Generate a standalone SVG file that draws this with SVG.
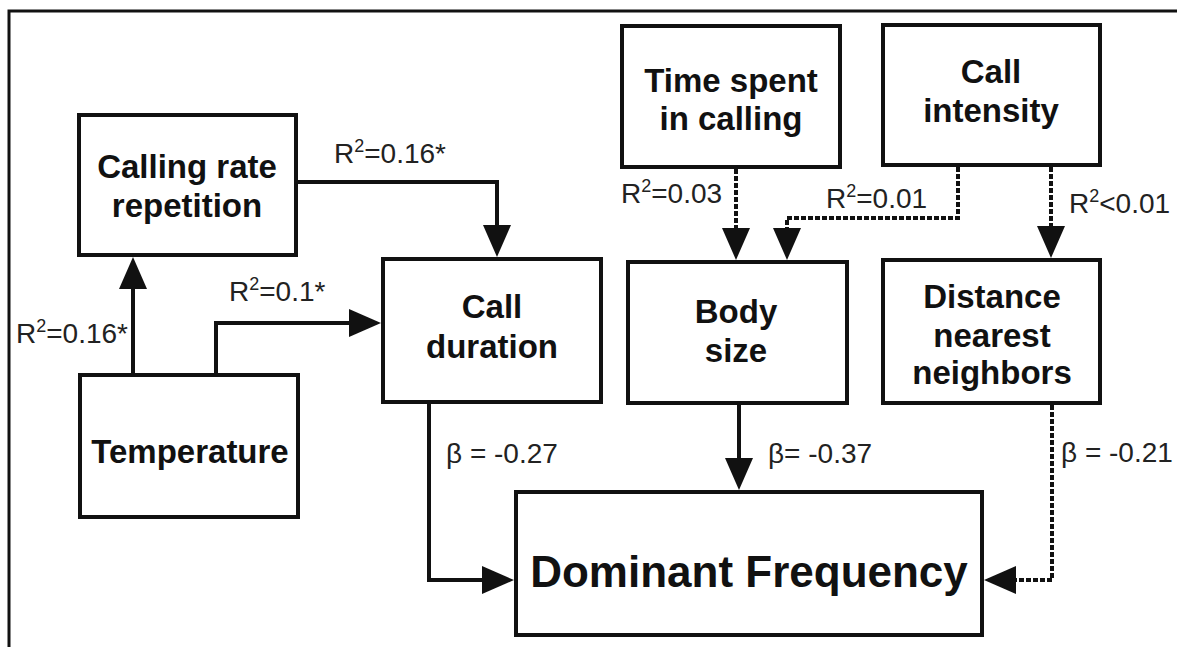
<svg xmlns="http://www.w3.org/2000/svg" width="1177" height="647" viewBox="0 0 1177 647">
  <style>
    .box { fill: #fff; stroke: #111; stroke-width: 4; }
    .nt { font-family: "Liberation Sans", Arial, sans-serif; font-weight: bold; font-size: 33px; fill: #111; text-anchor: middle; }
    .big { font-size: 44px; }
    .lb { font-family: "Liberation Sans", Arial, sans-serif; font-size: 28px; fill: #222; }
    .sup { font-size: 18px; }
    .ln { fill: none; stroke: #111; stroke-width: 4; }
    .dash { stroke-dasharray: 5 2; }
  </style>
  <defs>
    <marker id="ah" markerUnits="userSpaceOnUse" viewBox="0 0 32 28" markerWidth="32" markerHeight="28" refX="0" refY="14" orient="auto">
      <path d="M0,0 L32,14 L0,28 Z" fill="#111"/>
    </marker>
  </defs>
  <rect width="1177" height="647" fill="#fff"/>
  <g id="frame">
    <path d="M9,647 V11 H1177" fill="none" stroke="#111" stroke-width="3"/>
  </g>

  <g id="connectors">
    <path class="ln" d="M133,373 V289" marker-end="url(#ah)"/>
    <path class="ln" d="M216,373 V323 H349" marker-end="url(#ah)"/>
    <path class="ln" d="M298,182 H497 V225" marker-end="url(#ah)"/>
    <path class="ln" d="M429,404 V580 H482" marker-end="url(#ah)"/>
    <path class="ln" d="M739,405 V458" marker-end="url(#ah)"/>
    <path class="ln dash" d="M1052,405 V580 H1016" marker-end="url(#ah)"/>
    <path class="ln dash" d="M736,169 V228" marker-end="url(#ah)"/>
    <path class="ln dash" d="M958,167 V218 H787 V228" marker-end="url(#ah)"/>
    <path class="ln dash" d="M1051,167 V226" marker-end="url(#ah)"/>
  </g>

  <g id="labels">
    <text class="lb" x="334" y="163">R<tspan class="sup" dy="-11">2</tspan><tspan dy="11">=0.16*</tspan></text>
    <text class="lb" x="16" y="343">R<tspan class="sup" dy="-11">2</tspan><tspan dy="11">=0.16*</tspan></text>
    <text class="lb" x="229" y="301">R<tspan class="sup" dy="-11">2</tspan><tspan dy="11">=0.1*</tspan></text>
    <text class="lb" x="621" y="203">R<tspan class="sup" dy="-11">2</tspan><tspan dy="11">=0.03</tspan></text>
    <text class="lb" x="826" y="208">R<tspan class="sup" dy="-11">2</tspan><tspan dy="11">=0.01</tspan></text>
    <text class="lb" x="1069" y="213">R<tspan class="sup" dy="-11">2</tspan><tspan dy="11">&lt;0.01</tspan></text>
    <text class="lb" x="446" y="463">β = -0.27</text>
    <text class="lb" x="768" y="463">β= -0.37</text>
    <text class="lb" x="1061" y="462">β = -0.21</text>
  </g>

  <g id="node-calling-rate">
    <rect class="box" x="79" y="115" width="217" height="140"/>
    <text class="nt" x="187" y="178">Calling rate</text>
    <text class="nt" x="187" y="217">repetition</text>
  </g>
  <g id="node-temperature">
    <rect class="box" x="80" y="375" width="218" height="142"/>
    <text class="nt" x="190" y="463">Temperature</text>
  </g>
  <g id="node-call-duration">
    <rect class="box" x="383" y="259" width="218" height="143"/>
    <text class="nt" x="492" y="318">Call</text>
    <text class="nt" x="492" y="358">duration</text>
  </g>
  <g id="node-time-spent">
    <rect class="box" x="622" y="26" width="218" height="141"/>
    <text class="nt" x="731" y="92">Time spent</text>
    <text class="nt" x="731" y="130">in calling</text>
  </g>
  <g id="node-call-intensity">
    <rect class="box" x="883" y="25" width="217" height="140"/>
    <text class="nt" x="991" y="83">Call</text>
    <text class="nt" x="991" y="122">intensity</text>
  </g>
  <g id="node-body-size">
    <rect class="box" x="628" y="262" width="219" height="141"/>
    <text class="nt" x="736" y="323">Body</text>
    <text class="nt" x="736" y="362">size</text>
  </g>
  <g id="node-distance">
    <rect class="box" x="883" y="260" width="217" height="143"/>
    <text class="nt" x="992" y="308">Distance</text>
    <text class="nt" x="992" y="347">nearest</text>
    <text class="nt" x="992" y="384">neighbors</text>
  </g>
  <g id="node-dominant-frequency">
    <rect class="box" x="516" y="492" width="466" height="143"/>
    <text class="nt big" x="749" y="587">Dominant Frequency</text>
  </g>
</svg>
